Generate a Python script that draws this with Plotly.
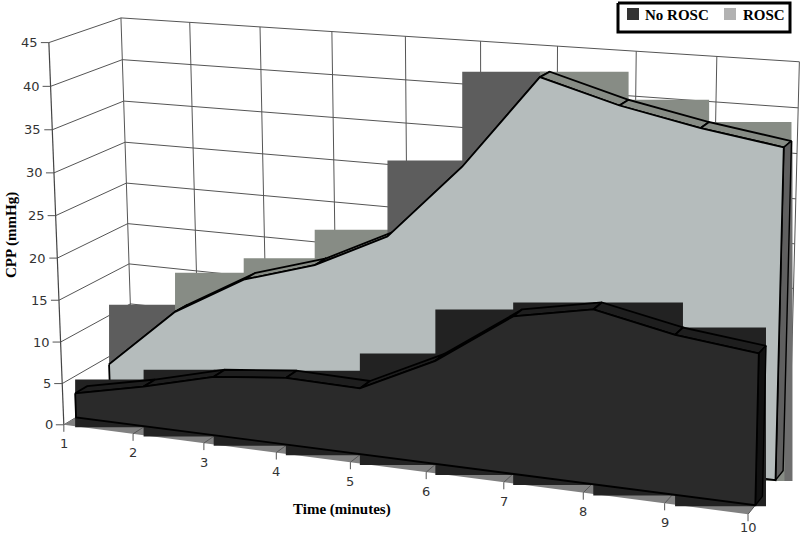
import numpy as np
import plotly.graph_objects as go

# ---- data ----
minutes = [1, 2, 3, 4, 5, 6, 7, 8, 9, 10]
no_rosc = [2.95, 4.8, 7.0, 7.9, 7.7, 11.9, 17.9, 19.6, 17.75, 16.7]
rosc = [4.05, 11.5, 16.3, 18.9, 23.1, 31.9, 42.6, 40.1, 38.3, 36.9]
cpp_ticks = [0, 5, 10, 15, 20, 25, 30, 35, 40, 45]

# ---- 3-D look: projective camera (minute, CPP, depth) -> page pixel ----
CAMERA = np.array([[67.03934, -0.364535, 74.821824, -3.90666],
                   [4.223332, -8.431699, -22.724237, 415.938959],
                   [-0.0109, -0.000728, 0.048584, 1.0]])
NO_FRONT, NO_BACK = 0.17, 0.34
R_FRONT, R_BACK = 0.66, 0.85
R_STEP_COLORS = ["#5d5d5d", "#878c85", "#878c85", "#878c85", "#5d5d5d",
                 "#5d5d5d", "#878c85", "#878c85", "#878c85"]
NO_STEP_COLORS = ["#222222"] * 9


def P(t, v, d):
    q = CAMERA @ np.array([t, v, d, 1.0])
    return q[0] / q[2], q[1] / q[2]


fig = go.Figure()


def path(points, color=None, line=None, width=1.0, name=""):
    xs = [p[0] for p in points]
    ys = [p[1] for p in points]
    kw = dict(x=xs, y=ys, mode="lines", hoverinfo="skip", showlegend=False, name=name)
    if color:
        kw["fill"] = "toself"
        kw["fillcolor"] = color
        xs.append(xs[0])
        ys.append(ys[0])
    kw["line"] = dict(color=line or "rgba(0,0,0,0)", width=width if line else 0)
    fig.add_trace(go.Scatter(**kw))


# walls
GRID = "#555555"
for v in cpp_ticks:
    path([P(1, v, 0), P(1, v, 1), P(10, v, 1)], line=GRID, width=1)
for t in minutes:
    path([P(t, 0, 1), P(t, 45, 1)], line=GRID, width=1)
path([P(1, 0, 0), P(1, 45, 0)], line="#444444", width=1.2)

# floor strip in front of the first series
path([P(1, 0, 0), P(10, 0, 0), P(10, 0, NO_FRONT), P(1, 0, NO_FRONT)], color="#808080", name="floor")
for t in minutes[1:]:
    path([P(t, 0, 0), P(t, 0, NO_FRONT)], line="#555555", width=1)


def area(values, front, back, step_colors, band, face, side, step_last, name):
    n = len(values)
    # flat bounding blocks behind every segment; later ones overpaint earlier ones
    for i in range(n - 1):
        xa = P(minutes[i], values[i], front)[0]
        xb = P(minutes[i + 1], values[i + 1], back)[0]
        top = min(P(minutes[i], values[i], back)[1], P(minutes[i + 1], values[i + 1], back)[1])
        bot = max(P(minutes[i], 0, front)[1], P(minutes[i + 1], 0, front)[1]) + 1
        path([(xa, top), (xb, top), (xb, bot), (xa, bot)], color=step_colors[i], name=name)
    if step_last:
        a = P(10, values[-1], back)
        b = P(10, 0, front)
        path([(a[0] - 7, a[1]), (a[0] + 1, a[1]), (a[0] + 1, b[1] + 1), (a[0] - 7, b[1] + 1)], color=step_last, name=name)
    # top band
    for i in range(n - 1):
        path([P(minutes[i], values[i], front), P(minutes[i + 1], values[i + 1], front),
              P(minutes[i + 1], values[i + 1], back), P(minutes[i], values[i], back)],
             color=band, line="#000000", width=1.8, name=name)
    # side at the last minute
    path([P(10, values[-1], front), P(10, values[-1], back), P(10, 0, back), P(10, 0, front)],
         color=side, line="#000000", width=1.4, name=name)
    # front face
    top_edge = [P(t, v, front) for t, v in zip(minutes, values)]
    base = [P(t, 0, front) for t in reversed(minutes)]
    path(top_edge + base, color=face, line="#000000", width=1.8, name=name)


area(rosc, R_FRONT, R_BACK, R_STEP_COLORS, "#878c85", "#b5bcbc", "#5f5f5f", "#6e6e6e", "ROSC")
area(no_rosc, NO_FRONT, NO_BACK, NO_STEP_COLORS, "#1e1e1e", "#2a2a2a", "#111111", None, "No ROSC")

# ticks and tick labels
annotations = []
TICK_FONT = dict(family="DejaVu Sans", size=13, color="#333333")
TITLE_FONT = dict(family="Liberation Serif", size=15, color="#000000")
for v in cpp_ticks:
    x, y = P(1, v, 0)
    path([(x - 8, y), (x, y)], line=GRID, width=1)
    annotations.append(dict(x=x - 9, y=y, text=str(v), xanchor="right", yanchor="middle", showarrow=False, font=TICK_FONT))
for t in minutes:
    x, y = P(t, 0, 0)
    path([(x, y), (x, y + 7)], line=GRID, width=1)
    annotations.append(dict(x=x, y=min(y + 19, 527), text=str(t), xanchor="center", yanchor="middle", showarrow=False, font=TICK_FONT))

annotations.append(dict(x=11, y=235, text="<b>CPP (mmHg)</b>", textangle=-90, showarrow=False, font=TITLE_FONT))
annotations.append(dict(x=342, y=509, text="<b>Time (minutes)</b>", showarrow=False, font=TITLE_FONT))

# legend box
path([(618, 3), (790, 3), (790, 32), (618, 32)], color="#ffffff", line="#000000", width=3, name="legend")
for sx, col, label, tx in [(627, "#333333", "No ROSC", 643), (724, "#b2b2b2", "ROSC", 741)]:
    path([(sx, 8), (sx + 12, 8), (sx + 12, 20), (sx, 20)], color=col, name=label)
    annotations.append(dict(x=tx, y=15, text=f"<b>{label}</b>", xanchor="left", showarrow=False, font=TITLE_FONT))

fig.update_layout(
    width=800, height=536, margin=dict(l=0, r=0, t=0, b=0),
    paper_bgcolor="#ffffff", plot_bgcolor="#ffffff", showlegend=False,
    xaxis=dict(range=[0, 800], visible=False, fixedrange=True),
    yaxis=dict(range=[536, 0], visible=False, fixedrange=True),
    annotations=annotations,
)
fig.write_html("out.html", config={"displayModeBar": False},
               post_script="document.body.style.margin='0';document.documentElement.style.overflow='hidden';")
